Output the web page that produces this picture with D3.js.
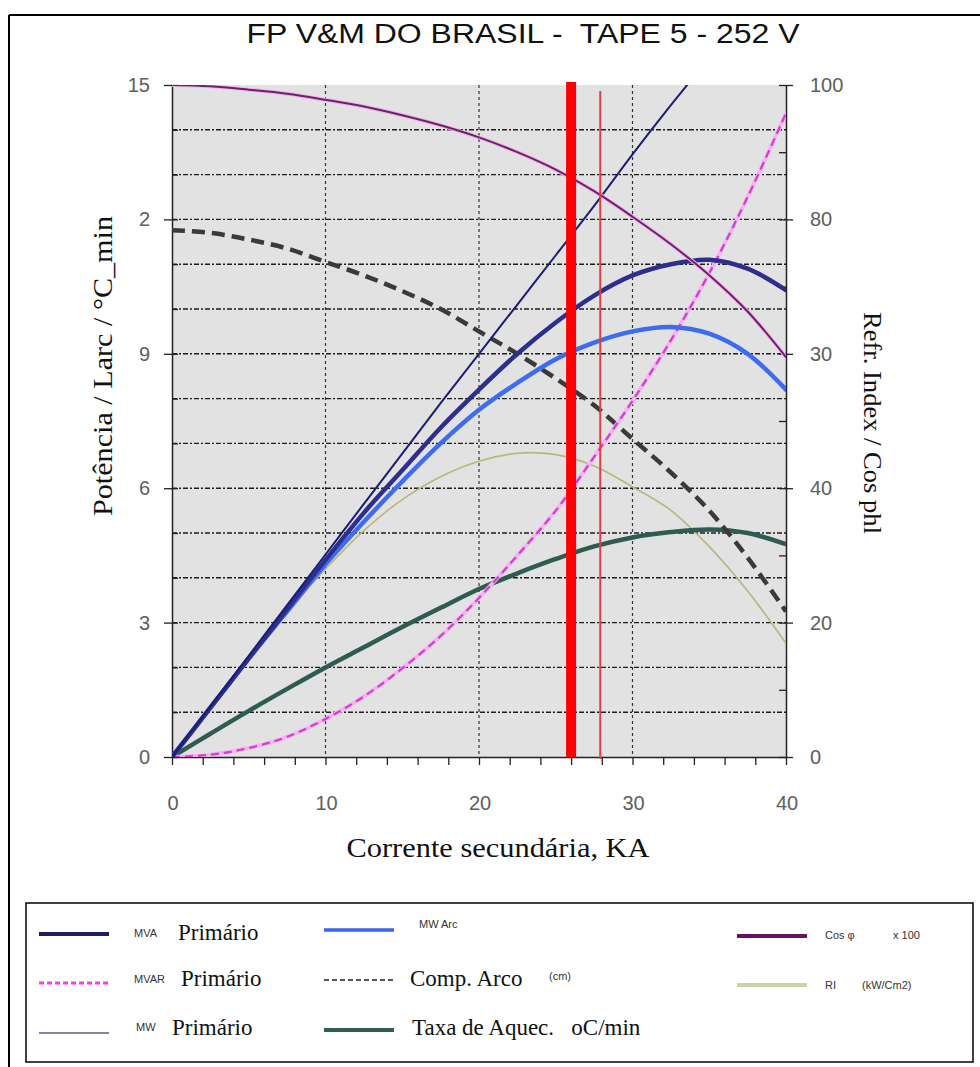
<!DOCTYPE html>
<html>
<head>
<meta charset="utf-8">
<script src="https://cdn.jsdelivr.net/npm/d3@7"></script>
<style>
  html, body { margin: 0; padding: 0; background: #ffffff; }
  svg { display: block; }
</style>
</head>
<body>
<svg id="chart" width="980" height="1067"></svg>
<script>
// ---- data (secondary current in kA, left axis 0-15, right axis 0-100) ----
const title = "FP V&M DO BRASIL -  TAPE 5 - 252 V";
const kA = [0, 2.5, 5, 7.5, 10, 12.5, 15, 17.5, 20, 22.5, 25, 27.5, 30, 32.5, 35, 37.5, 40];

// left axis series
const mvaPrimario  = [0, 1.13, 2.26, 3.39, 4.52, 5.65, 6.77, 7.9, 9.0, 10.1, 11.2, 12.3, 13.45, 14.55, 15.6, 16.65, 17.7];
const mwPrimario   = [0, 1.1, 2.2, 3.3, 4.4, 5.45, 6.4, 7.35, 8.2, 9.0, 9.7, 10.3, 10.75, 11.0, 11.1, 10.9, 10.42];
const mwArco       = [0, 1.1, 2.2, 3.25, 4.3, 5.25, 6.15, 7.0, 7.75, 8.35, 8.88, 9.25, 9.5, 9.6, 9.45, 9.0, 8.2];
const mvarPrimario = [0, 0.05, 0.2, 0.45, 0.85, 1.35, 1.98, 2.7, 3.55, 4.5, 5.5, 6.7, 7.95, 9.3, 10.8, 12.5, 14.37];
const compArco     = [11.76, 11.7, 11.55, 11.35, 11.05, 10.75, 10.4, 10.0, 9.5, 9.0, 8.45, 7.85, 7.1, 6.35, 5.5, 4.45, 3.25];
const taxaAquec    = [0, 0.52, 1.03, 1.52, 2.0, 2.45, 2.9, 3.33, 3.75, 4.1, 4.42, 4.7, 4.9, 5.02, 5.08, 5.0, 4.75];

// right axis series
const cosPhi100    = [100, 99.8, 99.3, 98.7, 97.8, 96.8, 95.5, 94.0, 92.2, 90.0, 87.4, 84.2, 80.4, 76.3, 71.7, 66.3, 59.5];
const refrIndex    = [0, 7.3, 14.7, 21.7, 28.0, 33.7, 38.3, 41.7, 44.0, 45.2, 45.0, 43.3, 40.2, 36.7, 31.3, 24.7, 16.9];

// operating-point markers (kA)
const markerThick = 26;
const markerThin = 27.9;

// axis ticks
const xTickValues = [0, 10, 20, 30, 40];
const leftTickValues = [0, 3, 6, 9, 12, 15];
const leftTickLabels = ["0", "3", "6", "9", "2", "15"];
const rightTickValues = [0, 20, 40, 60, 80, 100];
const rightTickLabels = ["0", "20", "40", "30", "80", "100"];

// ---- layout ----
const svg = d3.select("#chart");
const x = d3.scaleLinear().domain([0, 40]).range([172, 786]);
const yL = d3.scaleLinear().domain([0, 15]).range([757, 85]);
const yR = d3.scaleLinear().domain([0, 100]).range([757, 85]);

const sans = "'Liberation Sans', Arial, sans-serif";
const serif = "'Liberation Serif', 'Times New Roman', serif";

// outer frame
svg.append("line").attr("x1", 9).attr("x2", 980).attr("y1", 15).attr("y2", 15)
  .attr("stroke", "#000").attr("stroke-width", 2);
svg.append("line").attr("x1", 9).attr("x2", 9).attr("y1", 15).attr("y2", 1067)
  .attr("stroke", "#000").attr("stroke-width", 2);

// title
svg.append("text").attr("x", 523).attr("y", 43).attr("text-anchor", "middle")
  .attr("font-family", sans).attr("font-size", 27).attr("fill", "#111")
  .attr("textLength", 553).attr("lengthAdjust", "spacingAndGlyphs")
  .style("white-space", "pre")
  .text(title);

// plot background
svg.append("rect").attr("x", x(0)).attr("y", yL(15))
  .attr("width", x(40) - x(0)).attr("height", yL(0) - yL(15))
  .attr("fill", "#e2e2e2");

svg.append("clipPath").attr("id", "plotClip").append("rect")
  .attr("x", x(0)).attr("y", yL(15))
  .attr("width", x(40) - x(0)).attr("height", yL(0) - yL(15));

// horizontal grid (every unit on the left axis)
svg.append("g").selectAll("line").data(d3.range(1, 15)).join("line")
  .attr("x1", x(0)).attr("x2", x(40))
  .attr("y1", d => yL(d)).attr("y2", d => yL(d))
  .attr("stroke", "#1e1e1e").attr("stroke-width", 1.4)
  .attr("stroke-dasharray", "5,2,2,2");

// vertical grid
svg.append("g").selectAll("line").data([10, 20, 30]).join("line")
  .attr("x1", d => x(d)).attr("x2", d => x(d))
  .attr("y1", yL(15)).attr("y2", yL(0))
  .attr("stroke", "#333").attr("stroke-width", 1.2)
  .attr("stroke-dasharray", "3,3");

// axes
const axisStyle = g => {
  g.selectAll("path.domain").attr("stroke", "#222").attr("stroke-width", 1.5);
  g.selectAll(".tick line").attr("stroke", "#222").attr("stroke-width", 1.3);
};

// left axis: major ticks outward with labels, minor ticks inward
svg.append("g").attr("transform", `translate(${x(0)},0)`)
  .call(d3.axisLeft(yL).tickValues(leftTickValues).tickSizeInner(8).tickSizeOuter(0).tickPadding(14)
    .tickFormat((d, i) => leftTickLabels[i]))
  .call(axisStyle)
  .call(g => g.selectAll("text").attr("font-family", sans).attr("font-size", 20).attr("fill", "#5e5e5e"));
svg.append("g").attr("transform", `translate(${x(0)},0)`)
  .call(d3.axisRight(yL).tickValues(d3.range(0, 16)).tickSize(6).tickFormat(""))
  .call(axisStyle).call(g => g.select("path.domain").remove());

// right axis
svg.append("g").attr("transform", `translate(${x(40)},0)`)
  .call(d3.axisRight(yR).tickValues(rightTickValues).tickSizeInner(7).tickSizeOuter(0).tickPadding(17)
    .tickFormat((d, i) => rightTickLabels[i]))
  .call(axisStyle)
  .call(g => g.selectAll("text").attr("font-family", sans).attr("font-size", 20).attr("fill", "#5e5e5e"));
svg.append("g").attr("transform", `translate(${x(40)},0)`)
  .call(d3.axisLeft(yR).tickValues(d3.range(0, 101, 10)).tickSize(7).tickFormat(""))
  .call(axisStyle).call(g => g.select("path.domain").remove());

// bottom axis: ticks every 2 kA, labels every 10 kA
svg.append("g").attr("transform", `translate(0,${yL(0)})`)
  .call(d3.axisBottom(x).tickValues(d3.range(0, 41, 2)).tickSizeInner(8).tickSizeOuter(0).tickFormat(""))
  .call(axisStyle);
svg.append("g").selectAll("text").data(xTickValues).join("text")
  .attr("x", d => x(d) + 1).attr("y", 810).attr("text-anchor", "middle")
  .attr("font-family", sans).attr("font-size", 20).attr("fill", "#5e5e5e")
  .text(d => d);

// axis titles
svg.append("text").attr("transform", "translate(112,366) rotate(-90)")
  .attr("text-anchor", "middle").attr("font-family", serif).attr("font-size", 27).attr("fill", "#111")
  .attr("textLength", 300).attr("lengthAdjust", "spacingAndGlyphs")
  .text("Potência / Larc / °C_min");
svg.append("text").attr("transform", "translate(864,423) rotate(90)")
  .attr("text-anchor", "middle").attr("font-family", serif).attr("font-size", 25).attr("fill", "#111")
  .attr("textLength", 222).attr("lengthAdjust", "spacingAndGlyphs")
  .text("Refr. Index / Cos phl");
svg.append("text").attr("x", 498).attr("y", 857).attr("text-anchor", "middle")
  .attr("font-family", serif).attr("font-size", 27).attr("fill", "#111")
  .attr("textLength", 303).attr("lengthAdjust", "spacingAndGlyphs")
  .text("Corrente secundária, KA");

// ---- curves ----
const curve = d3.curveCatmullRom.alpha(0.5);
const lineL = d3.line().x((d, i) => x(kA[i])).y(d => yL(d)).curve(curve);
const lineR = d3.line().x((d, i) => x(kA[i])).y(d => yR(d)).curve(curve);

const plot = svg.append("g").attr("clip-path", "url(#plotClip)");
const draw = (values, gen, stroke, width, dash) => {
  plot.append("path").datum(values).attr("d", gen)
    .attr("fill", "none").attr("stroke", stroke).attr("stroke-width", width)
    .attr("stroke-linecap", dash ? "butt" : "round").attr("stroke-linejoin", "round")
    .attr("stroke-dasharray", dash || null);
};

draw(refrIndex, lineR, "#b9b67c", 1.6);
draw(taxaAquec, lineL, "#2e5b52", 4.5);
draw(compArco, lineL, "#3a3a3a", 4.5, "13,7");
draw(mvarPrimario, lineL, "#f4b4f0", 4);
draw(mvarPrimario, lineL, "#d43ccf", 2.2, "8,5");
draw(mwArco, lineL, "#3d6cf2", 4.5);
draw(mwPrimario, lineL, "#2e2e8e", 4.5);
draw(mvaPrimario, lineL, "#1c1c72", 2);
draw(cosPhi100, lineR, "#eeb4ee", 4);
draw(cosPhi100, lineR, "#70206a", 2);

// operating-point markers
svg.append("line").attr("x1", x(markerThick)).attr("x2", x(markerThick))
  .attr("y1", 82).attr("y2", yL(0))
  .attr("stroke", "#ff0000").attr("stroke-width", 10);
svg.append("line").attr("x1", x(markerThin)).attr("x2", x(markerThin))
  .attr("y1", 91).attr("y2", yL(0) + 2)
  .attr("stroke", "#d8404a").attr("stroke-width", 2);

// ---- legend ----
svg.append("rect").attr("x", 26).attr("y", 903).attr("width", 947).attr("height", 159)
  .attr("fill", "#fff").attr("stroke", "#111").attr("stroke-width", 1.6);

const legendLines = [
  { x: 39, y: 934, stroke: "#1c1c5e", w: 4 },
  { x: 39, y: 983, stroke: "#ff3be0", w: 3, dash: "5,3" },
  { x: 39, y: 1033, stroke: "#5a5a86", w: 1.5 },
  { x: 324, y: 930, stroke: "#3d63e6", w: 3.5 },
  { x: 324, y: 980, stroke: "#222", w: 1.5, dash: "5,3" },
  { x: 324, y: 1030, stroke: "#2e5f56", w: 4 },
  { x: 737, y: 936, stroke: "#6a125f", w: 4 },
  { x: 737, y: 985, stroke: "#cfcfac", w: 4 }
];
svg.append("g").selectAll("line").data(legendLines).join("line")
  .attr("x1", d => d.x).attr("x2", d => d.x + 70)
  .attr("y1", d => d.y).attr("y2", d => d.y)
  .attr("stroke", d => d.stroke).attr("stroke-width", d => d.w)
  .attr("stroke-dasharray", d => d.dash || null);

const legendSmall = [
  { x: 134, y: 937, t: "MVA" },
  { x: 134, y: 983, t: "MVAR" },
  { x: 136, y: 1031, t: "MW" },
  { x: 419, y: 928, t: "MW Arc" },
  { x: 549, y: 980, t: "(cm)" },
  { x: 825, y: 939, t: "Cos φ" },
  { x: 893, y: 939, t: "x 100" },
  { x: 825, y: 989, t: "RI" },
  { x: 862, y: 989, t: "(kW/Cm2)" }
];
svg.append("g").selectAll("text").data(legendSmall).join("text")
  .attr("x", d => d.x).attr("y", d => d.y)
  .attr("font-family", sans).attr("font-size", 11).attr("fill", "#333")
  .text(d => d.t);

const legendBig = [
  { x: 178, y: 940, t: "Primário" },
  { x: 181, y: 986, t: "Primário" },
  { x: 172, y: 1035, t: "Primário" },
  { x: 410, y: 986, t: "Comp. Arco" },
  { x: 412, y: 1035, t: "Taxa de Aquec.   oC/min" }
];
svg.append("g").selectAll("text").data(legendBig).join("text")
  .attr("x", d => d.x).attr("y", d => d.y)
  .attr("font-family", serif).attr("font-size", 23).attr("fill", "#111")
  .style("white-space", "pre")
  .text(d => d.t);
</script>
</body>
</html>
